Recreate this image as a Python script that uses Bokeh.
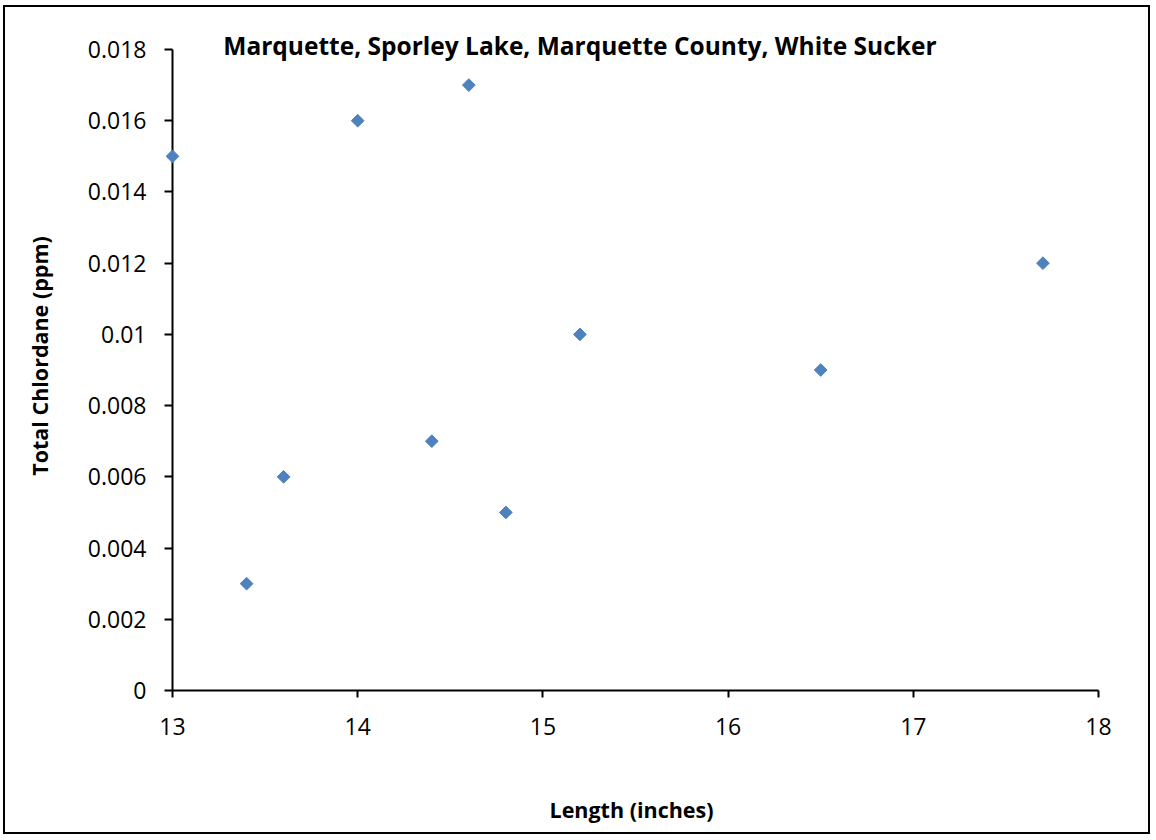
from bokeh.plotting import figure
from bokeh.models import Range1d, FixedTicker, Label
from bokeh.embed import file_html
from bokeh.resources import INLINE

title = "Marquette, Sporley Lake, Marquette County, White Sucker"
x_label = "Length (inches)"
y_label = "Total Chlordane (ppm)"

length_in = [13.0, 13.4, 13.6, 14.0, 14.4, 14.6, 14.8, 15.2, 16.5, 17.7]
chlordane_ppm = [0.015, 0.003, 0.006, 0.016, 0.007, 0.017, 0.005, 0.010, 0.009, 0.012]

x_ticks = [13, 14, 15, 16, 17, 18]
y_ticks = [0, 0.002, 0.004, 0.006, 0.008, 0.01, 0.012, 0.014, 0.016, 0.018]
y_tick_labels = ["0", "0.002", "0.004", "0.006", "0.008", "0.01", "0.012", "0.014", "0.016", "0.018"]

FONT = "Open Sans"

# geometry (pixels): frame extends slightly beyond the axes so edge markers and title are not clipped
Y_AXIS_PX = 641
TOP_PAD_PX = 28
X_AXIS_PX = 926
LEFT_PAD_PX = 8
x_axis_min, x_axis_max = x_ticks[0], x_ticks[-1]
y_min, y_axis_max = y_ticks[0], y_ticks[-1]
y_frame_max = y_axis_max * (Y_AXIS_PX + TOP_PAD_PX) / Y_AXIS_PX
x_frame_min = x_axis_min - (x_axis_max - x_axis_min) * LEFT_PAD_PX / X_AXIS_PX

p = figure(width=1147, height=829, output_backend="svg", toolbar_location=None,
           x_range=Range1d(x_frame_min, x_axis_max), y_range=Range1d(y_min, y_frame_max),
           min_border_left=167 - LEFT_PAD_PX, min_border_right=54, min_border_top=14,
           min_border_bottom=146)
p.styles = {"border": "2px solid black", "margin-left": "3px", "margin-top": "5px"}
p.outline_line_color = None
p.xgrid.visible = False
p.ygrid.visible = False

for ax in (p.xaxis[0], p.yaxis[0]):
    ax.axis_line_color = "black"
    ax.axis_line_width = 2
    ax.major_tick_line_color = "black"
    ax.major_tick_line_width = 2
    ax.major_tick_in = 0
    ax.major_tick_out = 7
    ax.minor_tick_line_color = None
    ax.major_label_text_font = FONT
    ax.major_label_text_font_size = "23px"
    ax.major_label_text_color = "black"
    ax.axis_label_text_font = FONT
    ax.axis_label_text_font_size = "21.5px"
    ax.axis_label_text_font_style = "bold"
    ax.axis_label_text_color = "black"

p.xaxis[0].ticker = FixedTicker(ticks=x_ticks)
p.xaxis[0].bounds = (x_axis_min, x_axis_max)
p.yaxis[0].ticker = FixedTicker(ticks=y_ticks)
p.yaxis[0].bounds = (y_min, y_axis_max)
# y axis sits at the frame edge (LEFT_PAD_PX left of x=13): ticks drawn inward to reach x=13
p.yaxis[0].axis_line_color = None
p.yaxis[0].major_tick_in = LEFT_PAD_PX
p.yaxis[0].major_tick_out = 0
p.yaxis[0].major_label_overrides = {t: l for t, l in zip(y_ticks, y_tick_labels)}
p.xaxis[0].major_label_standoff = 20
p.yaxis[0].major_label_standoff = 18
p.xaxis[0].axis_label = x_label
p.yaxis[0].axis_label = y_label
p.xaxis[0].axis_label_standoff = 57
p.yaxis[0].axis_label_standoff = 31

# vertical axis line at x = 13
p.segment(x0=[x_axis_min], y0=[y_min], x1=[x_axis_min], y1=[y_axis_max],
          line_color="black", line_width=2)

p.scatter(length_in, chlordane_ppm, marker="square", angle=45, angle_units="deg", size=9,
          fill_color="#4F81BD", line_color="#4F81BD", line_width=1)

p.add_layout(Label(x=15.2, y=0.01811, text=title, text_align="center", text_baseline="middle",
                   text_font=FONT, text_font_size="24.5px", text_font_style="bold",
                   text_color="black"))

open("out.html", "w").write(file_html(p, INLINE))
